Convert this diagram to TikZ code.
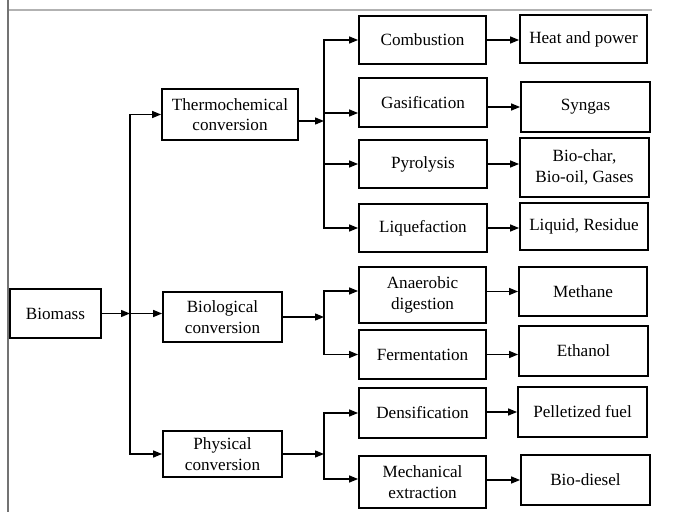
\documentclass[tikz,border=0pt]{standalone}
\usepackage{fontspec}
\setmainfont{Liberation Serif}
\usetikzlibrary{arrows.meta}
\begin{document}
\begin{tikzpicture}[x=1bp,y=-1bp,
  box/.style={draw=black,line width=1.8bp,align=center,inner sep=0pt,
    font=\fontsize{17.2}{20.5}\selectfont},
  arr/.style={line width=1.3bp,-{Triangle[length=9bp,width=7bp]}},
  frame/.style={line width=1.6bp}]
\useasboundingbox (0,0) rectangle (673,512);
\draw[frame,draw=black!30] (9,10) -- (652,10);
\draw[frame,draw=black!55] (8,0) -- (8,512);
% nodes
\node[box,minimum width=91bp,minimum height=49bp] (biomass) at (55.5,313.5) {Biomass};
\node[box,minimum width=136bp,minimum height=51bp] (thermo) at (230,114.5) {Thermochemical\\conversion};
\node[box,minimum width=119bp,minimum height=50bp] (bio) at (222.5,317) {Biological\\conversion};
\node[box,minimum width=119bp,minimum height=46bp] (phys) at (222.5,454) {Physical\\conversion};
\node[box,minimum width=127bp,minimum height=48bp] (comb) at (422.5,40) {Combustion};
\node[box,minimum width=128bp,minimum height=49bp] (gas) at (423,102.5) {Gasification};
\node[box,minimum width=128bp,minimum height=48bp] (pyro) at (423,164) {Pyrolysis};
\node[box,minimum width=128bp,minimum height=48bp] (liq) at (423,228) {Liquefaction};
\node[box,minimum width=127bp,minimum height=56bp] (anaer) at (422.5,295) {Anaerobic\\digestion};
\node[box,minimum width=127bp,minimum height=49bp] (ferm) at (422.5,354.5) {Fermentation};
\node[box,minimum width=127bp,minimum height=50bp] (dens) at (422.5,413) {Densification};
\node[box,minimum width=127bp,minimum height=52bp] (mech) at (422.5,482) {Mechanical\\extraction};
\node[box,minimum width=127bp,minimum height=48bp] (heat) at (583.5,39) {Heat and power};
\node[box,minimum width=129bp,minimum height=50bp] (syn) at (585.5,107) {Syngas};
\node[box,minimum width=129bp,minimum height=59bp] (bchar) at (584.5,167.5) {Bio-char,\\Bio-oil, Gases};
\node[box,minimum width=128bp,minimum height=47bp] (liqres) at (584,226.5) {Liquid, Residue};
\node[box,minimum width=128bp,minimum height=49bp] (meth) at (583,291.5) {Methane};
\node[box,minimum width=129bp,minimum height=50bp] (eth) at (583.5,351) {Ethanol};
\node[box,minimum width=129bp,minimum height=50bp] (pell) at (582.5,412) {Pelletized fuel};
\node[box,minimum width=129bp,minimum height=50bp] (biod) at (585.5,480) {Bio-diesel};
% trunk positions
\coordinate (k1) at (130,0);
\coordinate (k2) at (324,0);
% biomass to first level
\draw[arr] (biomass.east) -- (biomass.east -| k1);
\draw[arr] (biomass.east -| k1) -- (biomass.east -| bio.west);
\draw[arr] (biomass.east -| k1) -- (k1 |- thermo.west) -- (thermo.west);
\draw[arr] (biomass.east -| k1) -- (k1 |- phys.west) -- (phys.west);
% thermochemical group
\coordinate (te) at ([yshift=-6.5bp]thermo.east);
\draw[arr] (te) -- (te -| k2);
\draw[arr] (liq.west -| k2) |- (comb.west);
\draw[arr] (comb.west -| k2) |- (liq.west);
\coordinate (gw) at ([yshift=-10.5bp]gas.west);
\draw[arr] (gw -| k2) -- (gw);
\draw[arr] (pyro.west -| k2) -- (pyro.west);
% biological group
\draw[arr] (bio.east) -- (bio.east -| k2);
\coordinate (aw) at ([yshift=4bp]anaer.west);
\draw[arr] (ferm.west -| k2) |- (aw);
\draw[arr] (aw -| k2) |- (ferm.west);
% physical group
\draw[arr] (phys.east) -- (phys.east -| k2);
\coordinate (mw) at ([yshift=3bp]mech.west);
\draw[arr] (mw -| k2) |- (dens.west);
\draw[arr] (dens.west -| k2) |- (mw);
% outputs
\draw[arr] (comb.east) -- (comb.east -| heat.west);
\draw[arr] (syn.west -| gas.east) -- (syn.west);
\draw[arr] (pyro.east) -- (pyro.east -| bchar.west);
\draw[arr] (liq.east) -- (liq.east -| liqres.west);
\draw[arr] (meth.west -| anaer.east) -- (meth.west);
\draw[arr] (ferm.east) -- (ferm.east -| eth.west);
\draw[arr] (pell.west -| dens.east) -- (pell.west);
\draw[arr] (biod.west -| mech.east) -- (biod.west);
\end{tikzpicture}
\end{document}
